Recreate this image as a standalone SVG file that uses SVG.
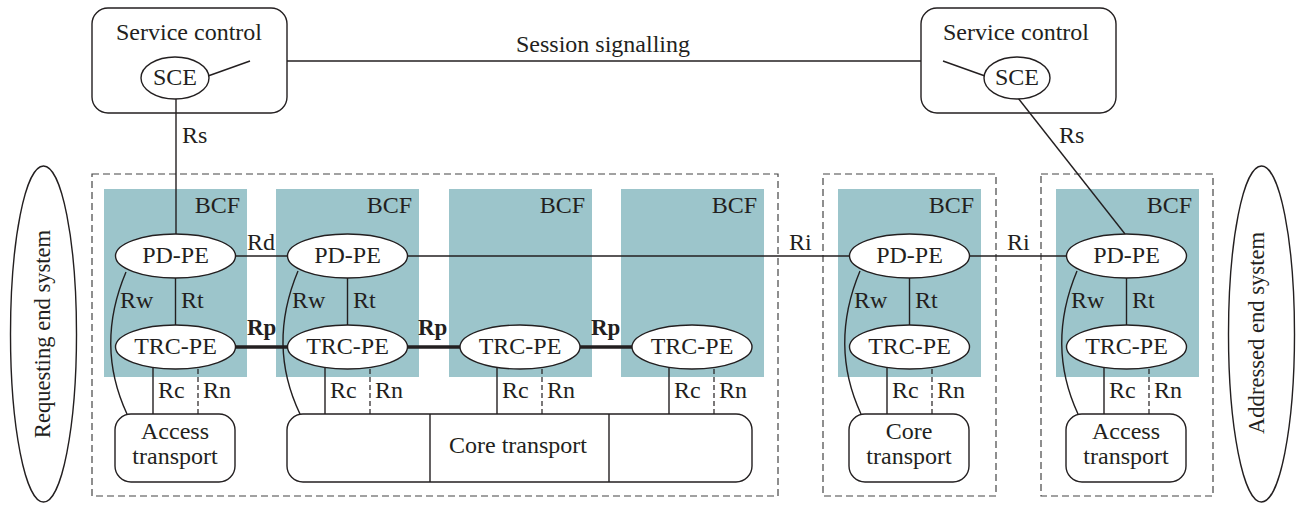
<svg xmlns="http://www.w3.org/2000/svg" width="1301" height="505" viewBox="0 0 1301 505">
<style>
text{font-family:"Liberation Serif","DejaVu Serif",serif;font-size:24px;fill:#231f20}
.m{text-anchor:middle}
.e{text-anchor:end}
.b{font-weight:bold;font-size:23px}
.v{font-size:22.6px}
.box{fill:#fff;stroke:#231f20;stroke-width:1.4}
.bcf{fill:#9cc5cb;stroke:none}
.ell{fill:#fff;stroke:#231f20;stroke-width:1.4}
.dash{fill:none;stroke:#444;stroke-width:1.2;stroke-dasharray:7,4}
.ln{fill:none;stroke:#231f20;stroke-width:1.4}
.dl{fill:none;stroke:#231f20;stroke-width:1.2;stroke-dasharray:5,3}
.rp{fill:none;stroke:#231f20;stroke-width:3.5}
</style>
<rect width="1301" height="505" fill="#fff"/>

<!-- service control boxes -->
<g id="svc-left">
<rect class="box" x="92" y="8" width="195" height="105" rx="16"/>
<text class="m" x="189" y="40">Service control</text>
</g>
<g id="svc-right">
<rect class="box" x="921" y="8" width="195" height="105" rx="16"/>
<text class="m" x="1016" y="40">Service control</text>
</g>

<!-- dashed domains -->
<g id="domains">
<rect class="dash" x="92" y="174" width="686" height="322"/>
<rect class="dash" x="823" y="174" width="173" height="322"/>
<rect class="dash" x="1041" y="174" width="172" height="322"/>
</g>

<!-- BCF areas -->
<g id="bcf">
<rect class="bcf" x="104" y="189" width="143" height="188"/>
<rect class="bcf" x="276" y="189" width="143" height="188"/>
<rect class="bcf" x="449" y="189" width="143" height="188"/>
<rect class="bcf" x="621" y="189" width="143" height="188"/>
<rect class="bcf" x="838" y="189" width="143" height="188"/>
<rect class="bcf" x="1056" y="189" width="143" height="188"/>
<text class="e" x="240" y="213">BCF</text>
<text class="e" x="412" y="213">BCF</text>
<text class="e" x="585" y="213">BCF</text>
<text class="e" x="757" y="213">BCF</text>
<text class="e" x="974" y="213">BCF</text>
<text class="e" x="1192" y="213">BCF</text>
</g>

<!-- connectors -->
<g id="connectors">
<line class="ln" x1="287" y1="61" x2="921" y2="61"/>
<line class="ln" x1="208" y1="76" x2="250" y2="61"/>
<line class="ln" x1="943" y1="61" x2="985" y2="76"/>
<line class="ln" x1="176" y1="99" x2="176" y2="234"/>
<line class="ln" x1="1018" y1="98" x2="1125" y2="234"/>
<line class="ln" x1="235" y1="256" x2="287" y2="256"/>
<line class="ln" x1="407" y1="256" x2="850" y2="256"/>
<line class="ln" x1="968" y1="256" x2="1066" y2="256"/>
<line class="rp" x1="235" y1="347" x2="288" y2="347"/>
<line class="rp" x1="407" y1="347" x2="460" y2="347"/>
<line class="rp" x1="580" y1="347" x2="632" y2="347"/>
<line class="ln" x1="175.5" y1="278" x2="175.5" y2="325"/>
<line class="ln" x1="347.5" y1="278" x2="347.5" y2="325"/>
<line class="ln" x1="909.5" y1="278" x2="909.5" y2="325"/>
<line class="ln" x1="1126.5" y1="278" x2="1126.5" y2="325"/>
<path class="ln" d="M126,272 Q95,345 127,414"/>
<path class="ln" d="M298,271 Q267,345 300,414"/>
<path class="ln" d="M860,271 Q829,345 861,414"/>
<path class="ln" d="M1077,271 Q1046,345 1078,414"/>
<line class="ln" x1="153" y1="368" x2="153" y2="414"/>
<line class="dl" x1="198" y1="369" x2="198" y2="414"/>
<line class="ln" x1="325" y1="368" x2="325" y2="414"/>
<line class="dl" x1="370" y1="369" x2="370" y2="414"/>
<line class="ln" x1="497" y1="368" x2="497" y2="414"/>
<line class="dl" x1="542" y1="369" x2="542" y2="414"/>
<line class="ln" x1="669" y1="368" x2="669" y2="414"/>
<line class="dl" x1="714" y1="369" x2="714" y2="414"/>
<line class="ln" x1="887" y1="368" x2="887" y2="414"/>
<line class="dl" x1="932" y1="369" x2="932" y2="414"/>
<line class="ln" x1="1104" y1="368" x2="1104" y2="414"/>
<line class="dl" x1="1149" y1="369" x2="1149" y2="414"/>
<text x="603" y="52" class="m">Session signalling</text>
<text x="182" y="143">Rs</text>
<text x="1059" y="143">Rs</text>
<text x="247" y="250">Rd</text>
<text x="789" y="250">Ri</text>
<text x="1007" y="250">Ri</text>
<text class="b" x="247" y="335">Rp</text>
<text class="b" x="418" y="335">Rp</text>
<text class="b" x="591" y="335">Rp</text>
<text x="120" y="308">Rw</text><text x="181" y="308">Rt</text>
<text x="292" y="308">Rw</text><text x="353" y="308">Rt</text>
<text x="854" y="308">Rw</text><text x="915" y="308">Rt</text>
<text x="1071" y="308">Rw</text><text x="1132" y="308">Rt</text>
<text x="158" y="398">Rc</text><text x="203" y="398">Rn</text>
<text x="330" y="398">Rc</text><text x="375" y="398">Rn</text>
<text x="502" y="398">Rc</text><text x="547" y="398">Rn</text>
<text x="674" y="398">Rc</text><text x="719" y="398">Rn</text>
<text x="892" y="398">Rc</text><text x="937" y="398">Rn</text>
<text x="1109" y="398">Rc</text><text x="1154" y="398">Rn</text>
</g>

<g id="sce-left">
<ellipse class="ell" cx="175" cy="78" rx="34" ry="21"/>
<text class="m" x="175" y="85">SCE</text>
</g>
<g id="sce-right">
<ellipse class="ell" cx="1017" cy="78" rx="33" ry="21"/>
<text class="m" x="1017" y="85">SCE</text>
</g>

<g id="pdpe1"><ellipse class="ell" cx="175.5" cy="256" rx="60" ry="22"/><text class="m" x="175.5" y="263">PD-PE</text></g>
<g id="pdpe2"><ellipse class="ell" cx="347.5" cy="256" rx="60" ry="22"/><text class="m" x="347.5" y="263">PD-PE</text></g>
<g id="pdpe5"><ellipse class="ell" cx="909.5" cy="256" rx="60" ry="22"/><text class="m" x="909.5" y="263">PD-PE</text></g>
<g id="pdpe6"><ellipse class="ell" cx="1126.5" cy="256" rx="60" ry="22"/><text class="m" x="1126.5" y="263">PD-PE</text></g>

<g id="trc1"><ellipse class="ell" cx="175.5" cy="347" rx="60" ry="22"/><text class="m" x="175.5" y="354">TRC-PE</text></g>
<g id="trc2"><ellipse class="ell" cx="347.5" cy="347" rx="60" ry="22"/><text class="m" x="347.5" y="354">TRC-PE</text></g>
<g id="trc3"><ellipse class="ell" cx="520" cy="347" rx="60" ry="22"/><text class="m" x="520" y="354">TRC-PE</text></g>
<g id="trc4"><ellipse class="ell" cx="692" cy="347" rx="60" ry="22"/><text class="m" x="692" y="354">TRC-PE</text></g>
<g id="trc5"><ellipse class="ell" cx="909.5" cy="347" rx="60" ry="22"/><text class="m" x="909.5" y="354">TRC-PE</text></g>
<g id="trc6"><ellipse class="ell" cx="1126.5" cy="347" rx="60" ry="22"/><text class="m" x="1126.5" y="354">TRC-PE</text></g>

<g id="access-left"><rect class="box" x="115" y="414" width="120" height="68" rx="16"/><text class="m" x="175" y="439">Access</text><text class="m" x="175" y="464">transport</text></g>
<g id="core-main"><rect class="box" x="287" y="414" width="465" height="68" rx="16"/><line class="ln" x1="430" y1="414" x2="430" y2="482"/><line class="ln" x1="609" y1="414" x2="609" y2="482"/><text class="m" x="518" y="453">Core transport</text></g>
<g id="core-mid"><rect class="box" x="849" y="414" width="120" height="68" rx="16"/><text class="m" x="909" y="439">Core</text><text class="m" x="909" y="464">transport</text></g>
<g id="access-right"><rect class="box" x="1066" y="414" width="120" height="68" rx="16"/><text class="m" x="1126" y="439">Access</text><text class="m" x="1126" y="464">transport</text></g>

<g id="requesting"><ellipse class="ell" cx="43.5" cy="334" rx="33" ry="168"/><text class="m v" transform="translate(50,334) rotate(-90)">Requesting end system</text></g>
<g id="addressed"><ellipse class="ell" cx="1261.5" cy="334" rx="33" ry="168"/><text class="m v" transform="translate(1264,333) rotate(-90)">Addressed end system</text></g>
</svg>
